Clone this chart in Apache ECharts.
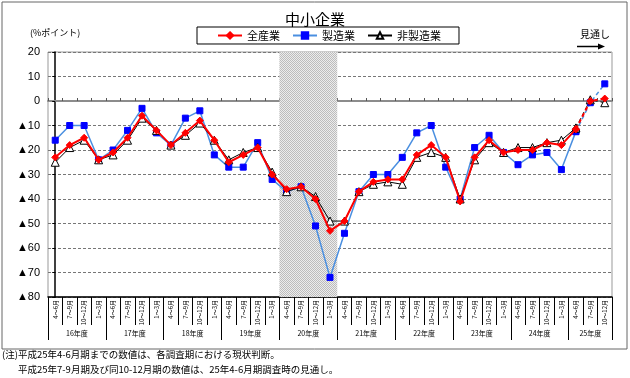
<!DOCTYPE html>
<html>
<head>
<meta charset="utf-8">
<script src="https://cdn.jsdelivr.net/npm/echarts@6/dist/echarts.min.js"></script>
<style>
html,body{margin:0;padding:0;background:#fff}
#main{width:630px;height:378px}
</style>
</head>
<body>
<div id="main"></div>
<script>
// 年度・四半期
var years = ['16年度','17年度','18年度','19年度','20年度','21年度','22年度','23年度','24年度','25年度'];
var quarters = ['4～6月','7～9月','10～12月','1～3月'];
var lastYearQuarters = 3;
var shadedYear = '20年度';   // 網掛け
var forecastFrom = 36;       // 25年4-6月期(実績の最終) から先は見通し(点線)

// BSI (%ポイント)
var allIndustry = [-23,-18,-15,-24, -21,-15,-6,-12, -18,-13,-8,-16, -25,-22,-19,-30,
    -36,-35,-40,-53, -49,-37,-33,-32, -32,-22,-18,-23, -41,-23,-16,-21,
    -20,-20,-17,-18, -11.5,0,1];
var manufacturing = [-16,-10,-10,-24, -20,-12,-3,-13, -18,-7,-4,-22, -27,-27,-17,-32,
    -37,-35,-51,-72, -54,-37,-30,-30, -23,-13,-10,-27, -40,-19,-14,-21,
    -26,-22,-21,-28, -12.5,-0.7,7];
var nonManufacturing = [-25,-19,-16,-24, -22,-16,-7,-12, -18,-14,-9,-16, -24,-21,-19,-29,
    -37,-35,-39,-49, -49,-37,-34,-33, -34,-23,-21,-23, -40,-24,-17,-21,
    -19,-19,-17,-16, -11,0.5,-0.7];

var quarterCats = [], yearCats = [], yearStarts = [], shadeRange = [];
for (var y = 0; y < years.length; y++) {
    var n = (y === years.length - 1) ? lastYearQuarters : 4;
    yearStarts.push(quarterCats.length);
    for (var q = 0; q < n; q++) {
        quarterCats.push(quarters[q]);
        yearCats.push('');
    }
    var mid = yearStarts[y] + Math.floor((n - 1) / 2);
    yearCats[mid] = (n % 2 === 0 ? '{e|' : '{o|') + years[y] + '}';
    if (years[y] === shadedYear) shadeRange = [yearStarts[y] - 0.5, yearStarts[y] + n - 0.5];
}

function part(arr, from, to) {
    return arr.map(function (v, i) { return (i >= from && i <= to) ? v : null; });
}

// 網掛けパターン
var pat = document.createElement('canvas');
pat.width = 2; pat.height = 2;
var pc = pat.getContext('2d');
pc.fillStyle = '#ececec'; pc.fillRect(0, 0, 2, 2);
pc.fillStyle = '#bcbcbc'; pc.fillRect(0, 0, 1, 1); pc.fillRect(1, 1, 1, 1);

var font = "'Liberation Sans','Noto Sans CJK JP',sans-serif";
var jfont = "'Noto Sans CJK JP',sans-serif";

function lineSeries(name, data, from, to, lineColor, width, symbol, size, fill, border, dashed, z) {
    return {
        name: name,
        type: 'line',
        xAxisIndex: 0,
        data: part(data, from, to),
        symbol: symbol,
        symbolSize: size,
        showSymbol: true,
        connectNulls: false,
        z: z,
        lineStyle: {color: lineColor, width: width, type: dashed ? [4, 3] : 'solid'},
        itemStyle: {color: fill, borderColor: border, borderWidth: 1}
    };
}

var last = quarterCats.length - 1;
var series = [
    lineSeries('製造業', manufacturing, 0, forecastFrom, '#4a8fe0', 1.5, 'rect', 6, '#0000ff', '#0000ff', false, 2),
    lineSeries('製造業', manufacturing, forecastFrom, last, '#4a8fe0', 1.5, 'rect', 6, '#0000ff', '#0000ff', true, 2),
    lineSeries('非製造業', nonManufacturing, 0, forecastFrom, '#000000', 1, 'triangle', 8, '#ffffff', '#000000', false, 3),
    lineSeries('非製造業', nonManufacturing, forecastFrom, last, '#000000', 1, 'triangle', 8, '#ffffff', '#000000', true, 3),
    lineSeries('全産業', allIndustry, 0, forecastFrom, '#ff0000', 2, 'diamond', 7, '#ff0000', '#ff0000', false, 4),
    lineSeries('全産業', allIndustry, forecastFrom, last, '#ff0000', 2, 'diamond', 7, '#ff0000', '#ff0000', true, 4),
    {
        name: 'shade',
        type: 'line',
        xAxisIndex: 3,
        data: [],
        silent: true,
        markArea: {
            silent: true,
            itemStyle: {color: {image: pat, repeat: 'repeat'}},
            data: [[{xAxis: shadeRange[0]}, {xAxis: shadeRange[1]}]]
        }
    }
];

var myChart = echarts.init(document.getElementById('main'));
var option = {
    backgroundColor: '#ffffff',
    animation: false,
    textStyle: {fontFamily: font},
    title: {
        text: '中小企業',
        left: 'center',
        top: 7,
        textStyle: {fontFamily: jfont, fontSize: 15, fontWeight: 'normal', color: '#000'}
    },
    legend: {
        data: ['全産業', '製造業', '非製造業'],
        left: 197,
        top: 27,
        padding: [3, 18, 3, 20],
        itemWidth: 24,
        itemHeight: 8,
        itemGap: 12,
        borderColor: '#000',
        borderWidth: 1,
        textStyle: {fontFamily: jfont, fontSize: 11, color: '#000'}
    },
    grid: {
        left: 48, right: 18, top: 52, bottom: 81,
        show: true,
        borderColor: '#999',
        borderWidth: 1
    },
    xAxis: [
        {
            type: 'category',
            data: quarterCats,
            position: 'bottom',
            boundaryGap: true,
            axisLine: {onZero: false, lineStyle: {color: '#000', width: 1.5}},
            axisTick: {show: true, interval: 0, length: 28, lineStyle: {color: '#000'}},
            axisLabel: {interval: 0, rotate: 90, margin: 3, fontSize: 6, fontFamily: jfont, color: '#000'},
            splitLine: {show: false}
        },
        {
            type: 'category',
            data: yearCats,
            position: 'bottom',
            boundaryGap: true,
            axisLine: {show: false, onZero: false},
            axisTick: {
                show: true, length: 43, lineStyle: {color: '#000'},
                interval: function (index) { return yearStarts.indexOf(index) >= 0; }
            },
            axisLabel: {
                interval: 0, margin: 33, fontSize: 7, color: '#000', fontFamily: jfont,
                rich: {
                    e: {fontSize: 7, fontFamily: jfont, padding: [0, 0, 0, 14.5]},
                    o: {fontSize: 7, fontFamily: jfont}
                }
            },
            splitLine: {show: false}
        },
        {
            type: 'category',
            data: quarterCats,
            position: 'bottom',
            boundaryGap: true,
            axisLine: {onZero: true, lineStyle: {color: '#8c8c8c', width: 2}},
            axisTick: {show: true, inside: true, interval: 0, length: 3, lineStyle: {color: '#555'}},
            axisLabel: {show: false},
            splitLine: {show: false}
        },
        {
            type: 'value',
            show: false,
            min: -0.5,
            max: quarterCats.length - 0.5,
            axisLine: {onZero: false}
        }
    ],
    yAxis: {
        type: 'value',
        min: -80,
        max: 20,
        interval: 10,
        axisLine: {show: true, lineStyle: {color: '#000', width: 1.5}},
        axisTick: {show: true, length: 3, lineStyle: {color: '#000'}},
        axisLabel: {
            fontSize: 11, color: '#000', margin: 8,
            formatter: function (v) { return v < 0 ? '▲' + (-v) : String(v); }
        },
        splitLine: {show: true, lineStyle: {color: '#777', type: [3, 2], width: 1}}
    },
    graphic: [
        {type: 'rect', shape: {x: 2, y: 2, width: 625, height: 347}, style: {fill: null, stroke: '#666', lineWidth: 1}, silent: true},
        {type: 'text', left: 30, top: 28, style: {text: '(%ポイント)', fontSize: 9, fontFamily: jfont, fill: '#000'}},
        {type: 'text', left: 580, top: 29, style: {text: '見通し', fontSize: 10, fontFamily: jfont, fill: '#000'}},
        {type: 'line', shape: {x1: 577, y1: 46.5, x2: 600, y2: 46.5}, style: {stroke: '#000', lineWidth: 1.5}},
        {type: 'polygon', shape: {points: [[598, 43.5], [605, 46.5], [598, 49.5]]}, style: {fill: '#000'}},
        {type: 'text', left: 2, top: 350, style: {text: '(注)平成25年4-6月期までの数値は、各調査期における現状判断。', fontSize: 9.5, fontFamily: jfont, fill: '#000'}},
        {type: 'text', left: 18, top: 365, style: {text: '平成25年7-9月期及び同10-12月期の数値は、25年4-6月期調査時の見通し。', fontSize: 9.5, fontFamily: jfont, fill: '#000'}}
    ],
    series: series
};
myChart.setOption(option);
</script>
</body>
</html>
